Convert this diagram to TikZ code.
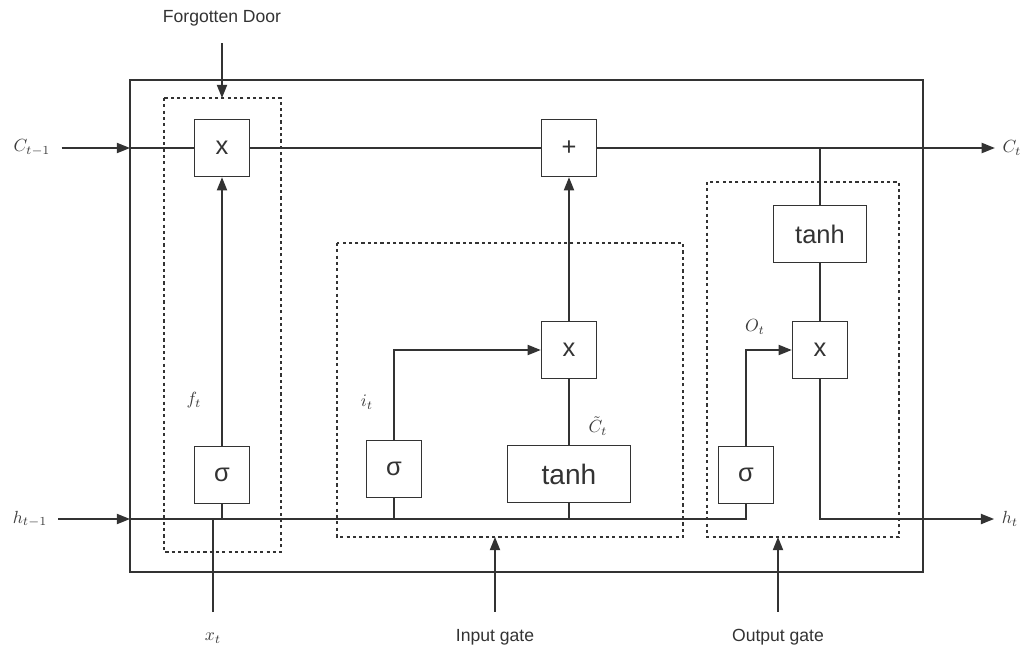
\documentclass[tikz,border=0pt]{standalone}
\usepackage{fontspec}
\setsansfont{Liberation Sans}
\usepackage{tikz}
\usetikzlibrary{arrows.meta,calc,positioning}
\definecolor{ink}{HTML}{333333}
\definecolor{muted}{HTML}{3C3C3C}

\begin{document}
\begin{tikzpicture}[x=0.02cm,y=-0.02cm,line width=0.85pt,color=ink,
  opbox/.style={draw=ink,fill=white,minimum width=1.1cm,minimum height=1.14cm,inner sep=0pt,text=ink,font=\sffamily\fontsize{14.5}{14.5}\selectfont},
  arr/.style={-{Triangle[length=7.5pt,width=5.8pt]}},
  gatebox/.style={dash pattern=on 1.8pt off 1.8pt},
  lbl/.style={text=muted,inner sep=1pt},
  txt/.style={text=ink,font=\sffamily}]
\useasboundingbox (0,0) rectangle (1029,650);
% cell and gate frames
\draw (130,80) rectangle (923,572);
\draw[gatebox] (164,98) rectangle (281,552);
\draw[gatebox] (337,243) rectangle (683,537);
\draw[gatebox] (707,182) rectangle (899,537);
% operation boxes
\node[opbox] (fx) at (222,148) {x};
\node[opbox] (fs) at (222,475) {σ};
\node[opbox] (add) at (569,148) {+};
\node[opbox] (ix) at (569,350) {x};
\node[opbox] (is) at (394,469) {σ};
\node[opbox,minimum width=2.46cm,font=\sffamily\fontsize{16}{16}\selectfont] (itanh) at (569,474) {tanh};
\node[opbox,minimum width=1.86cm] (otanh) at (820,234) {tanh};
\node[opbox] (ox) at (820,350) {x};
\node[opbox] (os) at (746,475) {σ};
% inputs, outputs and labels
\node[lbl] (cin) at (32,148) {$C_{t-1}$}; \node[lbl] (hin) at (30,519) {$h_{t-1}$};
\node[lbl] (cout) at (1012,148) {$C_t$}; \node[lbl] (hout) at (1010,519) {$h_t$};
\node[lbl] (xt) at (213,638) {$x_t$};
\node[lbl] (ft) at (194,400) {$f_t$}; \node[lbl] (it) at (367,402) {$i_t$};
\node[lbl] (ct) at (598,426) {$\tilde{C}_t$}; \node[lbl] (ot) at (755,327) {$O_t$};
\node[txt] (fd) at (222,18) {Forgotten Door};
\node[txt] (ig) at (495,637) {Input gate}; \node[txt] (og) at (778,637) {Output gate};
\coordinate (cl) at (130,148); \coordinate (hl) at (130,519); \coordinate (xe) at (213,612);
\coordinate (fdin) at (222,98); \coordinate (igin) at (495,537); \coordinate (ogin) at (778,537);
% cell state line
\draw[arr,shorten <=5pt] (cin) -- (cl); \draw (cl) -- (fx); \draw (fx) -- (add); \draw[arr,shorten >=3pt] (add) -- (cout);
% hidden state line
\draw[arr,shorten <=5pt] (hin) -- (hl); \draw (hl) -| (os);
\draw (xe) -- (xe |- hl);
\draw (fs) -- (fs |- hl); \draw (is) -- (is |- hl); \draw (itanh) -- (itanh |- hl);
% gates
\draw[arr] (fs) -- (fx);
\draw[arr] (is) |- (ix); \draw (itanh) -- (ix); \draw[arr] (ix) -- (add);
\draw (otanh |- add) -- (otanh); \draw (otanh) -- (ox); \draw[arr] (os) |- (ox);
\draw[arr,shorten >=3pt] (ox) |- (hout);
% gate arrows
\draw[arr,shorten <=6pt] (fd) -- (fdin);
\draw[arr,shorten <=6pt] (ig) -- (igin); \draw[arr,shorten <=6pt] (og) -- (ogin);
\end{tikzpicture}
\end{document}
